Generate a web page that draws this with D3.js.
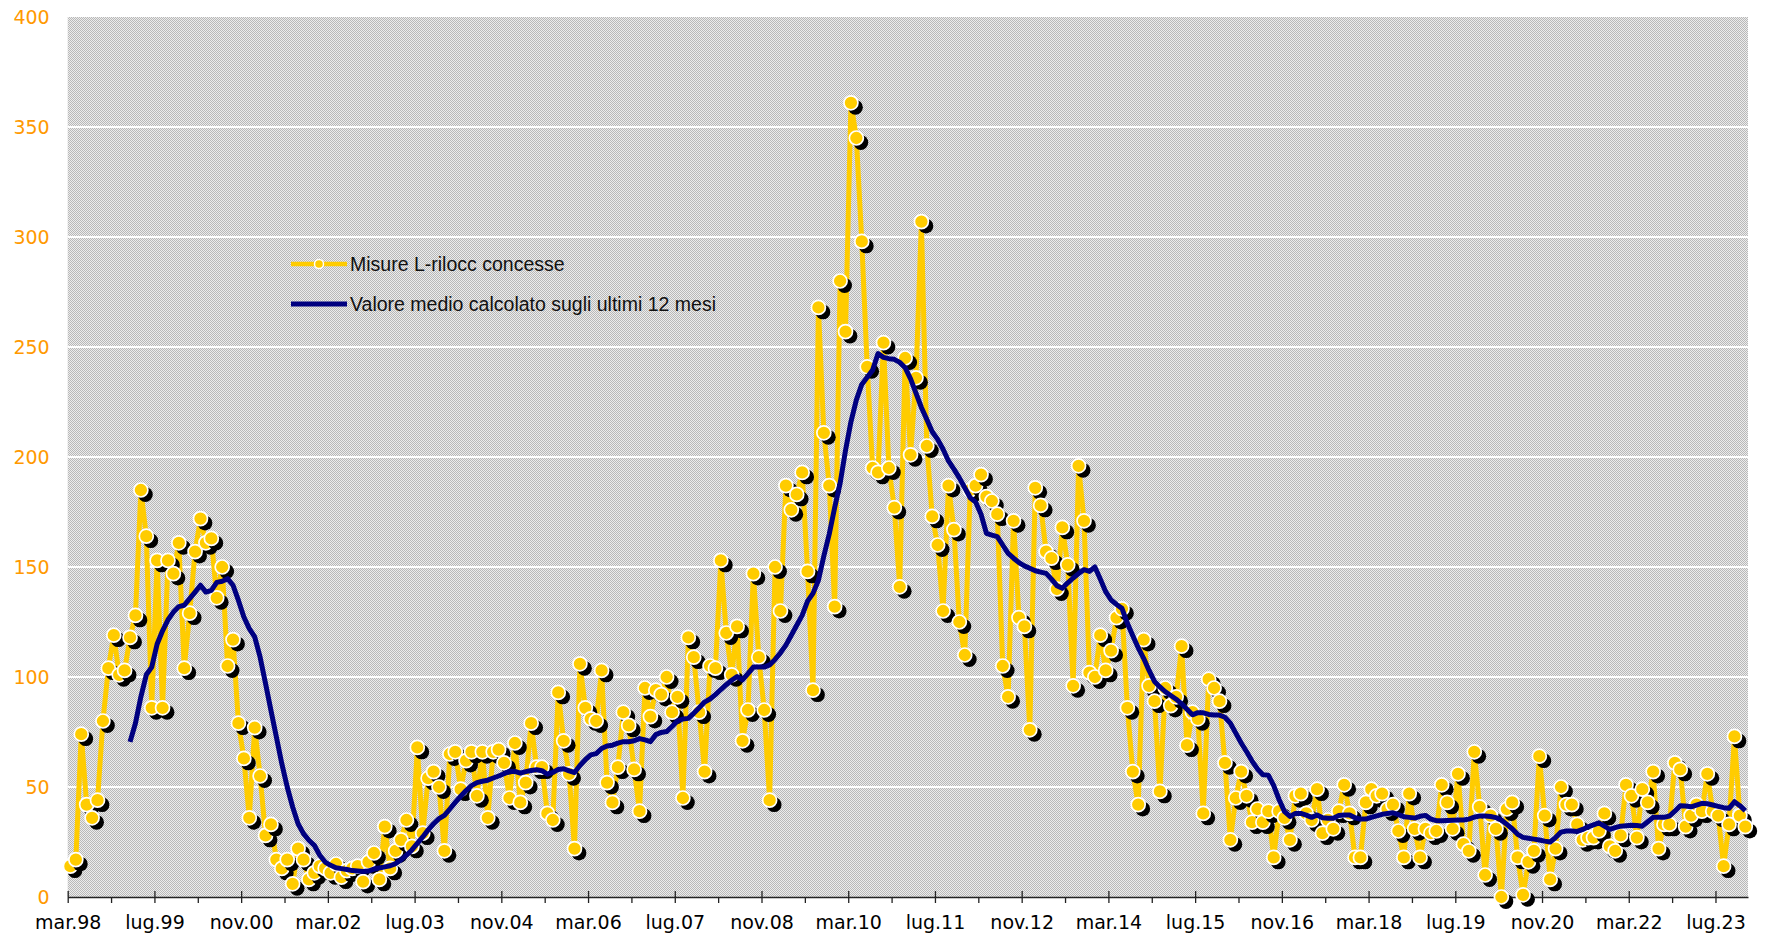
<!DOCTYPE html>
<html><head><meta charset="utf-8">
<script src="https://cdn.jsdelivr.net/npm/d3@7"></script>
<style>body{margin:0;background:#fff}</style>
</head><body><svg id="c" width="1769" height="938"></svg>
<script>
// ---- data ----
const monthNames = ["gen","feb","mar","apr","mag","giu","lug","ago","set","ott","nov","dic"];
const startYear = 1998, startMonth = 2; // mar.98

const misure = [
 14,17,74,42,36,44,80,104,119,101,
 103,118,128,185,164,86,153,86,153,147,
 161,104,129,157,172,161,163,136,150,105,
 117,79,63,36,77,55,28,33,17,13,
 17,6,22,17,8,11,14,13,11,15,
 9,12,13,14,7,16,20,8,32,13,
 21,26,35,23,68,29,54,57,50,21,
 65,66,49,62,66,46,66,36,66,67,
 61,45,70,43,52,79,59,59,38,35,
 93,71,56,22,106,86,81,80,103,52,
 43,59,84,78,58,39,95,82,94,92,
 100,84,91,45,118,109,84,57,105,104,
 153,120,101,123,71,85,147,109,85,44,
 150,130,187,176,183,193,148,94,268,211,
 187,132,280,257,361,345,298,241,195,193,
 252,195,177,141,245,201,236,307,205,173,
 160,130,187,167,125,110,185,187,192,182,
 180,174,105,91,171,127,123,76,186,178,
 157,154,140,168,151,96,196,171,102,100,
 119,103,112,127,131,86,57,42,117,96,
 89,48,95,87,91,114,69,84,81,38,
 99,95,89,61,26,45,57,46,34,40,
 34,39,18,39,36,26,46,47,38,35,
 49,29,35,31,39,51,38,18,18,43,
 49,46,47,40,42,30,18,47,31,18,
 31,29,30,51,43,31,56,24,21,66,
 41,10,37,31,0,40,43,18,1,16,
 21,64,37,8,22,50,42,42,33,26,
 27,27,30,38,23,21,28,51,46,27,
 49,43,57,22,33,33,61,58,32,37,
 42,39,56,39,37,14,33,73,37,32
];

// 12-month average, first value at the 12th month (feb.99)
const mediaStart = 11;
const media12 = [
 70.5,79,91,101,104.5,115,121,126,129.5,132,
 132.6,135.6,138.6,141.7,138.6,139.4,143,143.5,144.7,141.7,
 134.8,127.3,122,118.2,109,97,84.8,72.7,60.6,50,
 40.9,33.3,28.8,25.8,23.5,19,15.9,14.4,13.3,12.9,
 12.5,12,11.8,11.6,11.8,12.7,13.2,13.7,14.2,15.2,
 16.9,19,21.4,24.4,27.3,30.5,33.3,35.6,37.1,40,
 43,45.8,48.4,50.6,52,52.6,53.1,54.1,55,56,
 57.2,57.1,56.3,57,57.5,57.8,57.4,55.8,56.6,58,
 58.3,57.3,56.6,59.8,62.4,64.6,65.2,67.5,68.6,69,
 69.9,70.6,70.6,71,72,71.4,70.6,73.8,74.8,75.2,
 77.5,80,80.9,81.2,83.5,86,88.6,90,92,94.3,
 96.5,98.5,100.2,98.7,101.5,104.5,104.5,104.5,105.5,108,
 111,114.5,119,123.5,128,134.5,138,144,155,165,
 177,188,203,216,226,233,236.3,239.5,247,245.3,
 244.7,244.4,243,240.6,235.5,229,222.5,217,211.5,208,
 203.5,198.2,194.5,190.5,186,181.5,179.5,174,165.3,164.5,
 163.8,160,156.2,154,152,150.5,149.4,148.3,147.7,147.1,
 144.5,141.5,140.3,142.8,145,147,148.8,148,150,144.5,
 138.8,135,133,131.2,124.4,118.7,113.3,108.5,103,98,
 95.5,93.3,91.6,89.9,87.8,85.3,82.8,83.8,83.7,83,
 82.7,82.7,81.7,79,74.5,70,66,61.8,58.2,55.6,
 55.4,50.6,44.2,38.8,36.6,38,38,37.2,36.2,37.3,
 36,35.8,35.8,37,37.3,37.3,36,35.4,35.4,36.2,
 36.9,37.6,38,38.3,37.4,36.5,36.2,35.9,36.7,37.1,
 35.4,34.7,34.7,34.8,34.9,35,35,35.4,36.3,36.8,
 36.8,36.6,36.1,35,33,31,28.5,27.1,26.7,26.3,
 25.9,25.4,25,27,29.5,30,30,29.8,30.7,31.9,
 32.8,33.7,32.2,30.7,31.5,32.2,32.4,32.6,32.5,32.2,
 34.2,36.2,36.2,36.2,36.8,39,41.5,41.4,41,41.8,
 42.6,42.4,41.8,41.2,40.6,40.3,43.3,41.5,39.2
];

const yTicks = [0,50,100,150,200,250,300,350,400];
const legendLabels = ["Misure L-rilocc concesse", "Valore medio calcolato sugli ultimi 12 mesi"];

const categories = misure.map((_, i) => {
  const k = startMonth + i;
  return monthNames[k % 12] + "." + String((startYear + Math.floor(k / 12)) % 100).padStart(2, "0");
});
const majorTicks = d3.range(0, misure.length, 16);
const minorTicks = d3.range(8, misure.length, 16);

// ---- layout ----
const L = 67.7, R = 1748, T = 17, B = 897;
const svg = d3.select("#c");
const x = d3.scaleLinear().domain([0, misure.length]).range([L, R]);
const y = d3.scaleLinear().domain([0, 400]).range([B, T]);
const cx = i => x(i + 0.5);

const defs = svg.append("defs");
const pat = defs.append("pattern").attr("id", "chk").attr("width", 2).attr("height", 2)
  .attr("patternUnits", "userSpaceOnUse");
pat.append("rect").attr("width", 2).attr("height", 2).attr("fill", "#ececec");
pat.append("rect").attr("x", 0).attr("y", 0).attr("width", 1).attr("height", 1).attr("fill", "#b8b8b8");
pat.append("rect").attr("x", 1).attr("y", 1).attr("width", 1).attr("height", 1).attr("fill", "#b8b8b8");

svg.append("rect").attr("x", L).attr("y", T).attr("width", R - L).attr("height", B - T)
  .attr("fill", "url(#chk)");

// gridlines
svg.append("g").selectAll("line").data(yTicks.filter(v => v > 0 && v < 400)).join("line")
  .attr("x1", L).attr("x2", R).attr("y1", d => y(d)).attr("y2", d => y(d))
  .attr("stroke", "#ffffff").attr("stroke-width", 2.2);

// y axis labels
const yAxis = svg.append("g").attr("transform", `translate(${L},0)`)
  .call(d3.axisLeft(y).tickValues(yTicks).tickSize(0).tickPadding(18));
yAxis.select(".domain").remove();
yAxis.selectAll("text").attr("fill", "#ff9900").attr("font-family", "DejaVu Sans, Verdana, sans-serif")
  .attr("font-size", 19).attr("dy", "0.36em");

// x axis
const xAxis = svg.append("g").attr("transform", `translate(0,${B})`)
  .call(d3.axisBottom(x).tickValues(majorTicks).tickFormat(i => categories[i]).tickSize(6).tickSizeOuter(0));
xAxis.select(".domain").attr("stroke", "#222").attr("stroke-width", 1.3);
xAxis.selectAll(".tick line").attr("y1", -6).attr("stroke", "#222").attr("stroke-width", 1.3);
xAxis.selectAll("text").attr("fill", "#000").attr("font-family", "DejaVu Sans, Verdana, sans-serif")
  .attr("font-size", 19).attr("y", 32).attr("dy", 0);
const xMinor = svg.append("g").attr("transform", `translate(0,${B})`)
  .call(d3.axisBottom(x).tickValues(minorTicks).tickFormat("").tickSize(6).tickSizeOuter(0));
xMinor.select(".domain").remove();
xMinor.selectAll(".tick line").attr("stroke", "#222").attr("stroke-width", 1.3);

// yellow series
const yellow = "#ffcc00", navy = "#000080";
svg.append("path").datum(misure)
  .attr("d", d3.line().x((d, i) => cx(i)).y(d => y(d)))
  .attr("fill", "none").attr("stroke", yellow).attr("stroke-width", 5).attr("stroke-linejoin", "round");

const pts = svg.append("g").selectAll("g").data(misure).join("g")
  .attr("transform", (d, i) => `translate(${cx(i)},${y(d)})`);
pts.append("circle").attr("cx", 4.5).attr("cy", 4.5).attr("r", 7.4).attr("fill", "#000");
pts.append("circle").attr("r", 7).attr("fill", yellow).attr("stroke", "#fff").attr("stroke-width", 1.7);

// 12-month average
svg.append("path").datum(media12)
  .attr("d", d3.line().x((d, i) => cx(i + mediaStart)).y(d => y(d)))
  .attr("fill", "none").attr("stroke", navy).attr("stroke-width", 5).attr("stroke-linejoin", "round");

// legend
const lg = svg.append("g");
lg.append("line").attr("x1", 291).attr("x2", 347).attr("y1", 264).attr("y2", 264)
  .attr("stroke", yellow).attr("stroke-width", 4.5);
lg.append("circle").attr("cx", 319).attr("cy", 264).attr("r", 4.5).attr("fill", yellow)
  .attr("stroke", "#fff").attr("stroke-width", 1.5);
lg.append("line").attr("x1", 291).attr("x2", 347).attr("y1", 304).attr("y2", 304)
  .attr("stroke", navy).attr("stroke-width", 5);
lg.selectAll("text").data(legendLabels).join("text")
  .attr("x", 350).attr("y", (d, i) => 264 + i * 40 + 7)
  .attr("font-family", "Liberation Sans, Arial, sans-serif").attr("font-size", 19.5)
  .attr("fill", "#111").text(d => d);
</script></body></html>
